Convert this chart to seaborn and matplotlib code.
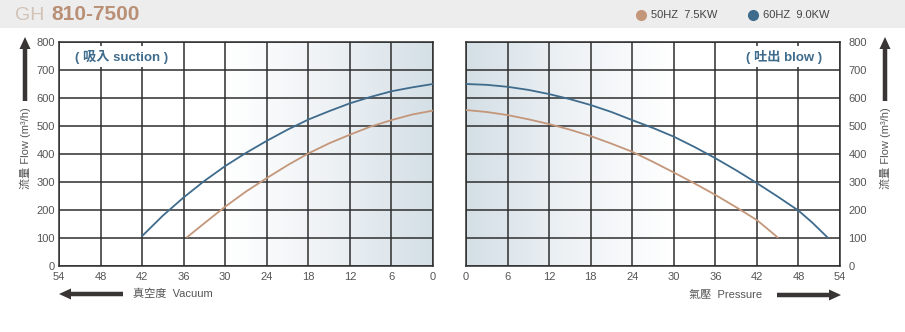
import numpy as np
import pandas as pd
import matplotlib
matplotlib.use("Agg")
import matplotlib.pyplot as plt
from matplotlib.colors import LinearSegmentedColormap
from matplotlib.patches import Rectangle, FancyArrow
import seaborn as sns

sns.set_theme(style="white")
plt.rcParams['font.family'] = ['Liberation Sans', 'Noto Sans CJK TC', 'DejaVu Sans']

# ---------------- data ----------------
vac_60_x = [42, 39, 36, 33, 30, 27, 24, 21, 18, 15, 12, 9, 6, 3, 0]
vac_60_y = [107, 180, 245, 304, 357, 404, 447, 487, 523, 553, 581, 604, 624, 638, 650]
vac_50_x = [35.5, 33, 30, 27, 24, 21, 18, 15, 12, 9, 6, 3, 0]
vac_50_y = [103, 153, 212, 266, 314, 360, 402, 438, 469, 498, 521, 541, 555]

pre_60_x = [0, 3, 6, 9, 12, 15, 18, 21, 24, 27, 30, 33, 36, 39, 42, 45, 48, 50, 52.2]
pre_60_y = [650, 647, 640, 629, 614, 596, 575, 550, 521, 493, 462, 425, 385, 342, 296, 248, 198, 155, 102]
pre_50_x = [0, 3, 6, 9, 12, 15, 18, 21, 24, 27, 30, 33, 36, 39, 42, 44, 45]
pre_50_y = [557, 550, 539, 524, 507, 487, 464, 437, 408, 372, 334, 295, 254, 210, 164, 123, 102]

x_ticks = [0, 6, 12, 18, 24, 30, 36, 42, 48, 54]
y_ticks = [0, 100, 200, 300, 400, 500, 600, 700, 800]
series_labels = ["50HZ  7.5KW", "60HZ  9.0KW"]
title_model = "GH"
title_code = "810-7500"

C50 = "#c4967a"
C60 = "#3f6b8c"
GRID = "#2e2e2e"
TXT = "#555555"

vac = pd.concat([
    pd.DataFrame({"x": vac_50_x, "y": vac_50_y, "s": series_labels[0]}),
    pd.DataFrame({"x": vac_60_x, "y": vac_60_y, "s": series_labels[1]}),
])
pre = pd.concat([
    pd.DataFrame({"x": pre_50_x, "y": pre_50_y, "s": series_labels[0]}),
    pd.DataFrame({"x": pre_60_x, "y": pre_60_y, "s": series_labels[1]}),
])
palette = {series_labels[0]: C50, series_labels[1]: C60}

W, H = 905, 332
fig = plt.figure(figsize=(W / 100, H / 100), dpi=100)
fig.patch.set_facecolor("white")

def ax_rect(x0, x1, y0, y1):
    return [x0 / W, 1 - y1 / H, (x1 - x0) / W, (y1 - y0) / H]

axL = fig.add_axes(ax_rect(59, 433, 42, 266))
axR = fig.add_axes(ax_rect(466, 840, 42, 266))

cmap = LinearSegmentedColormap.from_list("bg", ["#ffffff", "#eef2f5", "#d4dfe6"], N=256)

def style_axis(ax, reverse):
    vals = np.linspace(0, 54, 400)
    t = np.clip((30 - vals) / 30, 0, 1)
    img = t[np.newaxis, :]
    ax.imshow(img, extent=[0, 54, 0, 800], aspect="auto", cmap=cmap,
              vmin=0, vmax=1, zorder=0, interpolation="bilinear")
    ax.set_xlim(54, 0) if reverse else ax.set_xlim(0, 54)
    ax.set_ylim(0, 800)
    ax.set_xticks(x_ticks)
    ax.set_yticks(y_ticks)
    ax.grid(True, color=GRID, linewidth=1.1, zorder=1)
    ax.set_axisbelow(False)
    for sp in ax.spines.values():
        sp.set_color(GRID)
        sp.set_linewidth(1.1)
    ax.tick_params(axis="both", length=0, labelsize=8, labelcolor=TXT, pad=4)
    ax.set_xlabel("")
    ax.set_ylabel("")

sns.lineplot(data=vac, x="x", y="y", hue="s", palette=palette, ax=axL,
             linewidth=1.3, legend=False, sort=False, zorder=3)
sns.lineplot(data=pre, x="x", y="y", hue="s", palette=palette, ax=axR,
             linewidth=1.3, legend=False, sort=False, zorder=3)
style_axis(axL, True)
style_axis(axR, False)
axL.tick_params(axis="y", pad=3)
axR.yaxis.tick_right()
axR.tick_params(axis="y", pad=6, length=0)
for ax in (axL, axR):
    for ln in ax.lines:
        ln.set_zorder(3)

# inner annotations
box = dict(facecolor="white", edgecolor="none", pad=2.5)
axL.text(16 / 374, 0.935, "( 吸入 suction )", transform=axL.transAxes, ha="left", va="center",
         fontsize=9.5, fontweight="bold", color=C60, bbox=box, zorder=4)
axR.text(1 - 18 / 374, 0.935, "( 吐出 blow )", transform=axR.transAxes, ha="right", va="center",
         fontsize=9.5, fontweight="bold", color=C60, bbox=box, zorder=4)

# header band
fig.patches.append(Rectangle((0, 1 - 28 / H), 1, 28 / H, transform=fig.transFigure,
                             facecolor="#ededed", edgecolor="none", zorder=0))
fig.text(44 / W, 1 - 15 / H, title_model, fontsize=14, color="#d3c2b6", ha="right", va="center")
fig.text(51 / W, 1 - 15 / H, title_code, fontsize=15, fontweight="bold", color="#b98f76",
         ha="left", va="center")

# legend
lx = [641, 753]
for i, (xpix, col) in enumerate(zip(lx, [C50, C60])):
    fig.lines.append(plt.Line2D([xpix / W], [1 - 15 / H], marker="o", markersize=7,
                                color=col, transform=fig.transFigure, linestyle="none"))
    fig.text((xpix + 10) / W, 1 - 15 / H, series_labels[i], fontsize=8, color="#444444",
             ha="left", va="center")

# y-axis labels with arrows (pixel-space arrows via inches transform)
ylab = "流量 Flow (m³/h)"
fig.text(25 / W, 1 - 148 / H, ylab, rotation=90, fontsize=8, color=TXT, ha="center", va="center")
fig.text(885 / W, 1 - 148 / H, ylab, rotation=90, fontsize=8, color=TXT, ha="center", va="center")
ARROW = "#3a3535"
IT = fig.dpi_scale_trans

def pix_arrow(x0, y0, x1, y1):
    fig.patches.append(FancyArrow(x0 / 100, (H - y0) / 100, (x1 - x0) / 100, -(y1 - y0) / 100,
                                  width=4.5 / 100, head_width=11 / 100, head_length=12 / 100,
                                  length_includes_head=True, transform=IT,
                                  color=ARROW, zorder=5, linewidth=0))

for xp in (25, 885):
    pix_arrow(xp, 101, xp, 37)

# bottom labels with arrows
fig.text(133 / W, 1 - 294 / H, "真空度  Vacuum", fontsize=8, color=TXT, ha="left", va="center")
fig.text(762 / W, 1 - 295 / H, "氣壓  Pressure", fontsize=8, color=TXT, ha="right", va="center")
pix_arrow(123, 294, 59, 294)
pix_arrow(777, 295, 841, 295)

fig.savefig("out.png", dpi=100)
